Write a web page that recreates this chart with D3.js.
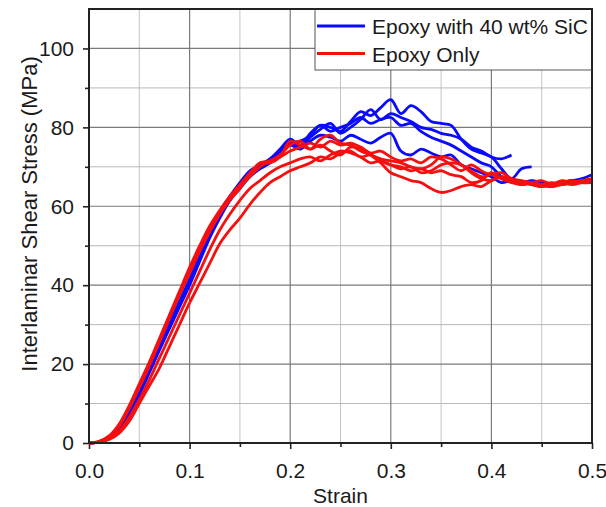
<!DOCTYPE html>
<html>
<head>
<meta charset="utf-8">
<script src="https://cdn.jsdelivr.net/npm/d3@7"></script>
<style>
  body { margin: 0; background: #fff; }
  svg text { font-family: Arial, "Liberation Sans", sans-serif; fill: #1a1a1a; }
</style>
</head>
<body>
<svg id="chart"></svg>
<script>
// Strain grid shared by every test curve
const strain = [0, 0.01, 0.02, 0.03, 0.04, 0.05, 0.06, 0.07, 0.08, 0.09,
  0.1, 0.11, 0.12, 0.13, 0.14, 0.15, 0.16, 0.17, 0.18, 0.19,
  0.2, 0.21, 0.22, 0.23, 0.24, 0.25, 0.26, 0.27, 0.28, 0.29,
  0.3, 0.31, 0.32, 0.33, 0.34, 0.35, 0.36, 0.37, 0.38, 0.39,
  0.4, 0.41, 0.42, 0.43, 0.44, 0.45, 0.46, 0.47, 0.48, 0.49, 0.5];

// Epoxy with 40 wt% SiC (stress in MPa)
const sic1 = [0, 0.3, 1.4, 3.8, 7.8, 13, 18.5, 24, 29.5, 35, 40.5, 46.5, 52.5, 57.5, 61.5, 65,
  68, 70, 72, 74.5, 77, 75.5, 78.5, 80.5, 80, 79, 81.5, 84, 83, 85, 87,
  83.5, 85.5, 84, 81.5, 81, 80.5, 77, 74.5, 73.5, 72.5, 69.5, 67, 69.5, 70];
const sic2 = [0, 0.2, 1.2, 3.5, 7.2, 12.2, 17.8, 23.5, 29, 34.5, 40, 46, 52, 57, 61.5, 64.5,
  67.5, 69.5, 71, 73.5, 76, 75, 77.5, 79.5, 81, 78.5, 80, 82, 84.5, 82, 83.5,
  82.5, 81.5, 80, 79.5, 78.5, 78, 77, 75, 74, 72.5, 72, 73];
const sic3 = [0, 0.3, 1.6, 4.2, 8.5, 14, 19.5, 25, 30.5, 36, 41.5, 47.5, 53.5, 58.5, 62.5, 66,
  69, 70.5, 72, 74, 76, 76.5, 78, 80.5, 79, 80, 81, 82.5, 81, 82, 82.5,
  80.5, 81, 79, 77.5, 76.5, 75.5, 74, 72.5, 71, 70, 67.5, 66.5, 66, 66.5, 66, 65.5, 66, 66.5, 66, 66.5];
const sic4 = [0, 0.3, 1.5, 4, 8, 13, 18.5, 24, 29.5, 35, 40.5, 46.5, 52.5, 57.5, 62, 65.5,
  68.5, 70, 71.5, 73.5, 75.5, 74.5, 76.5, 78, 77.5, 76.5, 78, 77, 76, 77.5, 78.5,
  74, 73, 74.5, 73.5, 72.5, 73, 70.5, 69.5, 68.5, 67.5, 66, 66.5, 65.5, 66, 65.5, 65, 66, 66.5, 67, 68];

// Epoxy only (stress in MPa)
const epo1 = [0, 0.4, 1.8, 4.8, 9.5, 15, 20.5, 26.5, 32.5, 38.5, 44.5, 50, 55, 59, 62.5, 65.5,
  68.5, 71, 71.5, 73, 75.5, 76.5, 74.5, 77, 78, 76, 75.5, 74, 73, 72, 71.5,
  71, 70, 69.5, 70.5, 72.5, 72, 70.5, 69, 67.5, 68, 67, 66.5, 66, 65.5, 65, 65.5, 66.5, 66, 66, 66.5];
const epo2 = [0, 0.3, 1.5, 4.2, 8.8, 14, 19.5, 25.5, 31.5, 37.5, 43, 48.5, 53.5, 58, 61.5, 64.5,
  68, 71, 71, 72.5, 76.5, 75.5, 74.5, 75.5, 74, 73, 75, 74.5, 73, 71, 68.5,
  67.5, 66.5, 66, 64.5, 63.5, 64, 65, 65.5, 65, 66.5, 67.5, 66.5, 66, 65.5, 65, 65.5, 66, 65.5, 66, 66.5];
const epo3 = [0, 0.2, 0.9, 2.5, 5.5, 10, 14.5, 19, 24.5, 30, 35.5, 40.5, 45.5, 50.5, 54, 57,
  60.5, 63.5, 66, 67.5, 69, 70, 71, 72.5, 72, 73.5, 74, 72.5, 73, 71.5, 70.5,
  70, 69, 69.5, 68.5, 69, 68, 67.5, 66, 66.5, 68.5, 67, 66, 65.5, 66, 66.5, 65.5, 66, 66.5, 66, 66];
const epo4 = [0, 0.2, 1.1, 3, 6.5, 11, 16, 21.5, 27, 32.5, 38, 43.5, 49, 54, 58, 61.5,
  64.5, 66.5, 68.5, 70, 71, 72, 72.5, 71.5, 73, 74, 73.5, 72.5, 71, 71.5, 70.5,
  69.5, 70, 68.5, 69, 70.5, 71, 70.5, 68.5, 67, 66.5, 67.5, 66.5, 65.5, 66, 65.5, 65, 65.5, 66, 66.5, 67];
const epo5 = [0, 0.3, 1.6, 4.5, 9, 14.5, 20, 26, 32, 38, 43.5, 49, 54, 58.5, 62, 65,
  67.5, 70, 71.5, 72.5, 74, 75, 76, 75, 76.5, 75.5, 76, 75, 73.5, 74, 72.5,
  71.5, 72, 71, 72.5, 72, 70.5, 69, 70.5, 69, 68, 68.5, 67, 66.5, 66, 65.5, 66, 65.5, 66, 66.5, 66];

// Ticks
const xTicks = [0, 0.1, 0.2, 0.3, 0.4, 0.5];
const xMinor = [0.05, 0.15, 0.25, 0.35, 0.45];
const yTicks = [0, 20, 40, 60, 80, 100];
const yMinor = [10, 30, 50, 70, 90];

const seriesNames = ["Epoxy with 40 wt% SiC", "Epoxy Only"];
const seriesColors = ["#0a0aff", "#f51010"];
const sicCurves = [sic1, sic2, sic3, sic4];
const epoCurves = [epo1, epo2, epo3, epo4, epo5];

// Chart size
const width = 606, height = 507;
const margin = { top: 9, right: 14, bottom: 64, left: 89 };
const innerW = width - margin.left - margin.right;
const innerH = height - margin.top - margin.bottom;

const svg = d3.select("#chart").attr("width", width).attr("height", height);
const chart = svg.append("g").attr("transform", `translate(${margin.left},${margin.top})`);

const x = d3.scaleLinear().domain([0, 0.5]).range([0, innerW]);
const y = d3.scaleLinear().domain([0, 110]).range([innerH, 0]);

// Grid, minor first (lighter), then major
chart.append("g").selectAll("line").data(xMinor).join("line")
  .attr("x1", d => x(d)).attr("x2", d => x(d)).attr("y1", 0).attr("y2", innerH)
  .attr("stroke", "#c4c4c4").attr("stroke-width", 1);
chart.append("g").selectAll("line").data(yMinor).join("line")
  .attr("y1", d => y(d)).attr("y2", d => y(d)).attr("x1", 0).attr("x2", innerW)
  .attr("stroke", "#b8b8b8").attr("stroke-width", 1);
chart.append("g").selectAll("line").data(xTicks.slice(1, -1)).join("line")
  .attr("x1", d => x(d)).attr("x2", d => x(d)).attr("y1", 0).attr("y2", innerH)
  .attr("stroke", "#7a7a7a").attr("stroke-width", 1.2);
chart.append("g").selectAll("line").data(yTicks.slice(1)).join("line")
  .attr("y1", d => y(d)).attr("y2", d => y(d)).attr("x1", 0).attr("x2", innerW)
  .attr("stroke", "#7a7a7a").attr("stroke-width", 1.2);

// Axes
const xAxis = d3.axisBottom(x).tickValues(xTicks).tickSize(6).tickPadding(14)
  .tickFormat(d3.format(".1f"));
const xAxisMinor = d3.axisBottom(x).tickValues(xMinor).tickSize(4).tickFormat("");
const yAxis = d3.axisLeft(y).tickValues(yTicks).tickSize(6).tickPadding(9);
const yAxisMinor = d3.axisLeft(y).tickValues(yMinor).tickSize(4).tickFormat("");

function styleAxis(g) {
  g.select(".domain").remove();
  g.selectAll("line").attr("stroke", "#222").attr("stroke-width", 1.6);
  g.selectAll("text").attr("font-size", 21).attr("fill", "#1a1a1a")
    .attr("font-family", "Arial, 'Liberation Sans', sans-serif");
}
chart.append("g").attr("transform", `translate(0,${innerH})`).call(xAxis).call(styleAxis);
chart.append("g").attr("transform", `translate(0,${innerH})`).call(xAxisMinor).call(styleAxis);
chart.append("g").call(yAxis).call(styleAxis);
chart.append("g").call(yAxisMinor).call(styleAxis);

// Curves
const line = d3.line()
  .x((d, i) => x(strain[i]))
  .y(d => y(d))
  .curve(d3.curveCatmullRom.alpha(0.5));

chart.append("g").selectAll("path").data(sicCurves).join("path")
  .attr("d", line).attr("fill", "none")
  .attr("stroke", seriesColors[0]).attr("stroke-width", 2.8)
  .attr("stroke-linejoin", "round");
chart.append("g").selectAll("path").data(epoCurves).join("path")
  .attr("d", line).attr("fill", "none")
  .attr("stroke", seriesColors[1]).attr("stroke-width", 2.8)
  .attr("stroke-linejoin", "round");

// Frame
chart.append("rect").attr("x", 0).attr("y", 0).attr("width", innerW).attr("height", innerH)
  .attr("fill", "none").attr("stroke", "#222").attr("stroke-width", 2);

// Legend in the top right corner
const legend = chart.append("g").attr("transform", `translate(${innerW - 277},0)`);
legend.append("rect").attr("width", 277).attr("height", 61)
  .attr("fill", "#fff").attr("stroke", "#555").attr("stroke-width", 1);
seriesNames.forEach((name, i) => {
  const row = legend.append("g").attr("transform", `translate(0,${17 + i * 27.5})`);
  row.append("line").attr("x1", 2).attr("x2", 50).attr("y1", 0).attr("y2", 0)
    .attr("stroke", seriesColors[i]).attr("stroke-width", 2.8);
  row.append("text").attr("x", 57).attr("y", 8).attr("font-size", 21).text(name);
});
// redraw frame edge over legend border
chart.append("path")
  .attr("d", `M${innerW - 277},0H${innerW}V61`)
  .attr("fill", "none").attr("stroke", "#222").attr("stroke-width", 2);

// Axis titles
svg.append("text")
  .attr("x", margin.left + innerW / 2).attr("y", 503)
  .attr("text-anchor", "middle").attr("font-size", 21).text("Strain");
svg.append("text")
  .attr("transform", `translate(37,214) rotate(-90)`)
  .attr("text-anchor", "middle").attr("font-size", 22)
  .text("Interlaminar Shear Stress (MPa)");
</script>
</body>
</html>
